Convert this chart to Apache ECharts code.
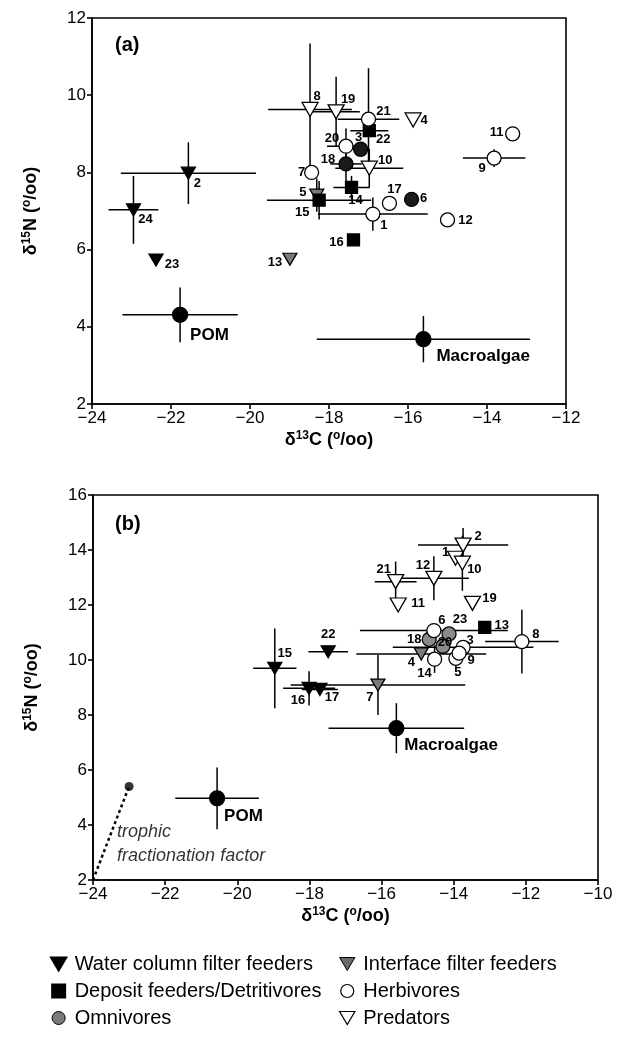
<!DOCTYPE html>
<html><head><meta charset="utf-8">
<script src="https://cdn.jsdelivr.net/npm/echarts@6/dist/echarts.min.js"></script>
<style>html,body{margin:0;padding:0;background:#fff}#c{width:643px;height:1051px}</style>
</head><body><div id="c"></div><script>
// ---------- Panel (a) data ----------
const aIds  = ['1','2','3','4','5','6','7','8','9','10','11','12','13','14','15','16','17','18','19','20','21','22','23','24','POM','Macroalgae'];
const aGrp  = ['H','W','O','P','I','O','H','P','H','P','H','H','I','D','D','D','H','O','P','H','H','D','W','W','S','S'];
const aX    = [-16.89,-21.56,-17.20,-15.87,-18.31,-15.91,-18.44,-18.48,-13.82,-16.98,-13.35,-15.00,-18.99,-17.43,-18.25,-17.38,-16.47,-17.57,-17.82,-17.57,-17.00,-16.98,-22.38,-22.95,-21.77,-15.61];
const aY    = [6.92,7.98,8.60,9.36,7.41,7.30,8.00,9.63,8.37,8.11,9.00,6.77,5.75,7.61,7.28,6.25,7.20,8.22,9.57,8.68,9.38,9.08,5.73,7.03,4.31,3.68];
const aXerr = [1.39,1.71,0,0,0,0,0,1.06,0.79,0.86,0,0,0,0.46,1.32,0,0,0.40,0.60,0.48,0.78,0.48,0,0.63,1.46,2.70];
const aYerr = [0.43,0.80,0,0,0.43,0,0,1.71,0.23,0.50,0,0,0,0.30,0.50,0,0,0.57,0.91,0.46,1.32,0,0,0.88,0.71,0.60];

// ---------- Panel (b) data ----------
const bIds  = ['1','2','3','4','5','6','7','8','9','10','11','12','13','14','15','16','17','18','19','20','21','22','23','POM','Macroalgae'];
const bGrp  = ['P','P','H','I','H','H','I','H','H','P','P','P','D','H','W','W','W','O','P','O','P','W','O','S','S'];
const bX    = [-13.95,-13.74,-13.74,-14.90,-13.94,-14.55,-16.10,-12.11,-13.85,-13.76,-15.54,-14.55,-13.14,-14.53,-18.96,-18.01,-17.71,-14.68,-13.48,-14.30,-15.61,-17.48,-14.13,-20.56,-15.59];
const bY    = [13.70,14.18,10.46,10.22,10.06,11.07,9.09,10.67,10.25,13.52,12.00,12.97,11.19,10.03,9.70,8.97,8.93,10.75,12.06,10.50,12.85,10.30,10.95,4.97,7.52];
const bXerr = [0,1.25,1.95,1.80,0,2.05,2.42,1.02,0,0,0,0.97,0,0,0.60,0.72,0.50,0,0,0,0.58,0.55,0,1.16,1.88];
const bYerr = [0,0.62,0,0,0.40,0,1.09,1.16,0,1.00,0,0.80,0,0.50,1.45,0.62,0,0,0,0,0.73,0,0,1.12,0.91];

// trophic fractionation factor segment (from origin to +1 C, +3.4 N)
const tffX = [-24, -23];
const tffY = [2, 5.4];

// axis ranges
const aXRange = [-24, -12], aYRange = [2, 12];
const bXRange = [-24, -10], bYRange = [2, 16];

const groupNames = {
  W:'Water column filter feeders', I:'Interface filter feeders', D:'Deposit feeders/Detritivores',
  H:'Herbivores', O:'Omnivores', P:'Predators'
};

// ---------- styling ----------
const FONT = "'Liberation Sans', Arial, sans-serif";
const DOWN = 'path://M0,0L20,0L10,17Z';
const SQUARE = 'path://M0,0L10,0L10,10L0,10Z';
const groupStyle = {
  W:{symbol:DOWN, size:[14,12], color:'#000', border:'#000'},
  I:{symbol:DOWN, size:[14,12], color:'#7a7a7a', border:'#000'},
  D:{symbol:'rect', size:12, color:'#000', border:'#000'},
  H:{symbol:'circle', size:14, color:'#fff', border:'#000'},
  O:{symbol:'circle', size:14, color:'#8a8a8a', border:'#000'},
  P:{symbol:DOWN, size:[16,14], color:'#fff', border:'#000'},
  S:{symbol:'circle', size:15, color:'#000', border:'#000'}
};
const labOffA = {'1':[11,11],'2':[9,10],'3':[-2,-12],'4':[11,1],'5':[-14,-3],'6':[12,-1],'7':[-10,0],'8':[7,-13],'9':[-12,10],'10':[16,-8],'11':[-16,-1],'12':[18,1],'13':[-15,3],'14':[4,13],'15':[-17,12],'16':[-17,2],'17':[5,-14],'18':[-18,-4],'19':[12,-12],'20':[-14,-8],'21':[15,-8],'22':[14,9],'23':[16,4],'24':[12,10],'POM':[10,20],'Macroalgae':[13,17]};
const labOffB = {'1':[-10,-6],'2':[15,-9],'3':[7,-7],'4':[-10,8],'5':[2,14],'6':[8,-10],'7':[-8,12],'8':[14,-7],'9':[12,7],'10':[12,6],'11':[20,-2],'12':[-11,-13],'13':[17,-2],'14':[-10,14],'15':[10,-15],'16':[-11,12],'17':[12,8],'18':[-15,0],'19':[17,-5],'20':[2,-4],'21':[-12,-12],'22':[0,-17],'23':[11,-14],'POM':[7,18],'Macroalgae':[8,17]};

function ptsFor(ids, grp, xs, ys, g, offs) {
  const out = [];
  for (let i = 0; i < ids.length; i++) {
    if (grp[i] !== g) continue;
    const src = g === 'S';
    out.push({name: ids[i], value: [xs[i], ys[i]],
      label: {offset: offs[ids[i]] || [10, 0], align: src ? 'left' : 'center',
              fontSize: src ? 17 : 13}});
  }
  return out;
}
function errData(xs, ys, xe, ye) {
  return xs.map((x, i) => [x, ys[i], xe[i], ye[i]]);
}
function errSeries(ai, data) {
  return {type:'custom', xAxisIndex:ai, yAxisIndex:ai, silent:true, z:1, data:data,
    encode:{x:0, y:1},
    renderItem:function(params, api){
      const x = api.value(0), y = api.value(1), ex = api.value(2), ey = api.value(3);
      const ch = [];
      const st = {stroke:'#000', lineWidth:1.5};
      if (ex > 0) { const p1 = api.coord([x-ex, y]), p2 = api.coord([x+ex, y]);
        ch.push({type:'line', shape:{x1:p1[0], y1:p1[1], x2:p2[0], y2:p2[1]}, style:st}); }
      if (ey > 0) { const p1 = api.coord([x, y-ey]), p2 = api.coord([x, y+ey]);
        ch.push({type:'line', shape:{x1:p1[0], y1:p1[1], x2:p2[0], y2:p2[1]}, style:st}); }
      return {type:'group', children:ch};
    }};
}
function scatterSeries(ai, ids, grp, xs, ys, g, offs) {
  const s = groupStyle[g];
  return {type:'scatter', name: g === 'S' ? 'Sources' : groupNames[g], xAxisIndex:ai, yAxisIndex:ai, z:3,
    symbol:s.symbol, symbolSize:s.size,
    itemStyle:{color: (g==='O' && ai===0) ? '#1a1a1a' : s.color, borderColor:s.border, borderWidth:1.3, opacity:1},
    label:{show:true, position:'inside', formatter:'{b}', color:'#000', fontFamily:FONT, fontWeight:'bold', verticalAlign:'middle'},
    emphasis:{disabled:true},
    data: ptsFor(ids, grp, xs, ys, g, offs)};
}

const axisCommon = {
  axisLine:{onZero:false, lineStyle:{color:'#000', width:1.6}},
  axisTick:{inside:false, length:5, lineStyle:{color:'#000', width:1.6}},
  axisLabel:{color:'#000', fontSize:17, fontFamily:FONT, margin:6},
  splitLine:{show:false}
};
const rich = {
  a:{fontSize:18, fontWeight:'bold', fontFamily:FONT, color:'#000'},
  s:{fontSize:12, fontWeight:'bold', fontFamily:FONT, color:'#000', padding:[0,0,9,0]}
};
function xAx(gi, r) {
  return Object.assign({}, axisCommon, {type:'value', gridIndex:gi, min:r[0], max:r[1], interval:2,
    name:'{a|δ}{s|13}{a|C (}{s|o}{a|/oo)}', nameLocation:'middle', nameGap:26, nameTextStyle:{rich:rich},
    axisLabel:Object.assign({}, axisCommon.axisLabel, {formatter:v => String(v).replace('-', '\u2212')})});
}
function yAx(gi, r) {
  return Object.assign({}, axisCommon, {type:'value', gridIndex:gi, min:r[0], max:r[1], interval:2,
    name:'{a|δ}{s|15}{a|N (}{s|o}{a|/oo)}', nameLocation:'middle', nameGap:50, nameRotate:90, nameTextStyle:{rich:rich}});
}

const series = [];
series.push(errSeries(0, errData(aX, aY, aXerr, aYerr)));
series.push(errSeries(1, errData(bX, bY, bXerr, bYerr)));
['S','W','I','D','O','H','P'].forEach(g => {
  series.push(scatterSeries(0, aIds, aGrp, aX, aY, g, labOffA));
  series.push(scatterSeries(1, bIds, bGrp, bX, bY, g, labOffB));
});
series.push({type:'line', xAxisIndex:1, yAxisIndex:1, z:2, silent:true,
  data: tffX.map((x, i) => [x, tffY[i]]), symbol:'none',
  lineStyle:{color:'#000', width:2.5, type:[3,3]}});
series.push({type:'scatter', xAxisIndex:1, yAxisIndex:1, z:3, silent:true,
  data:[{value:[tffX[1], tffY[1]], name:'trophic\nfractionation factor'}],
  symbol:'circle', symbolSize:9, itemStyle:{color:'#000'},
  label:{show:true, position:'inside', formatter:'{b}', align:'left', verticalAlign:'top', offset:[-12, 33],
    fontFamily:FONT, fontStyle:'italic', fontSize:18, lineHeight:24, color:'#000'}});

const legendIcon = {
  'Water column filter feeders': {icon:DOWN, itemStyle:{color:'#000', borderColor:'#000'}},
  'Deposit feeders/Detritivores': {icon:SQUARE, itemStyle:{color:'#000', borderColor:'#000'}},
  'Omnivores': {icon:'circle', itemStyle:{color:'#7a7a7a', borderColor:'#000', borderWidth:1}},
  'Interface filter feeders': {icon:DOWN, itemStyle:{color:'#6a6a6a', borderColor:'#000', borderWidth:1}},
  'Herbivores': {icon:'circle', itemStyle:{color:'#fff', borderColor:'#000', borderWidth:1.2}},
  'Predators': {icon:DOWN, itemStyle:{color:'#fff', borderColor:'#000', borderWidth:1.2}}
};
function legendData(names) { return names.map(n => Object.assign({name:n}, legendIcon[n])); }
const legendBase = {orient:'vertical', top:948, itemGap:5, itemWidth:22, itemHeight:13, selectedMode:false,
  textStyle:{fontSize:20, fontFamily:FONT, color:'#000', lineHeight:22}};

const option = {
  animation:false,
  backgroundColor:'#fff',
  title:[
    {text:'(a)', left:110, top:30, textStyle:{fontSize:20, fontWeight:'bold', fontFamily:FONT, color:'#000'}},
    {text:'(b)', left:110, top:509, textStyle:{fontSize:20, fontWeight:'bold', fontFamily:FONT, color:'#000'}}
  ],
  grid:[
    {left:92, top:18, width:474, height:386, show:true, borderColor:'#000', borderWidth:1.6, backgroundColor:'transparent'},
    {left:93, top:495, width:505, height:385, show:true, borderColor:'#000', borderWidth:1.6, backgroundColor:'transparent'}
  ],
  xAxis:[xAx(0, aXRange), xAx(1, bXRange)],
  yAxis:[yAx(0, aYRange), yAx(1, bYRange)],
  legend:[
    Object.assign({}, legendBase, {left:45, data:legendData(['Water column filter feeders','Deposit feeders/Detritivores','Omnivores'])}),
    Object.assign({}, legendBase, {left:334, data:legendData(['Interface filter feeders','Herbivores','Predators'])})
  ],
  series:series
};
const chart = echarts.init(document.getElementById('c'), null, {renderer:'canvas'});
chart.setOption(option);
</script></body></html>
